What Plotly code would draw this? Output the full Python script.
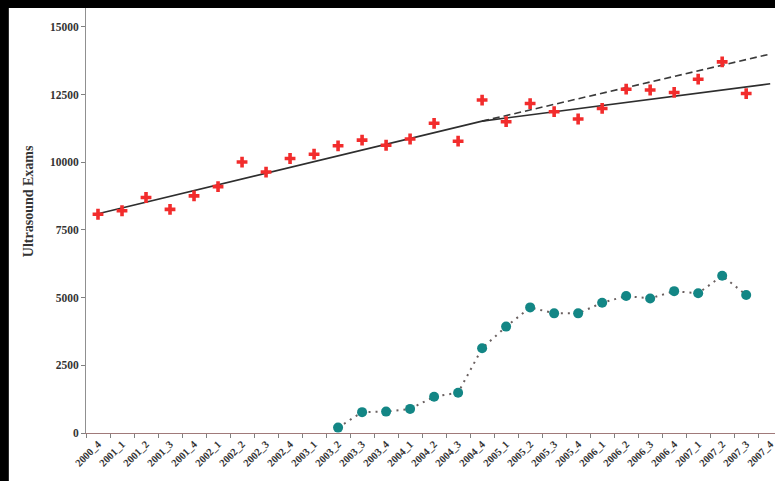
import plotly.graph_objects as go

# Quarter labels along the x axis
quarters = [
    "2000_4", "2001_1", "2001_2", "2001_3", "2001_4", "2002_1", "2002_2", "2002_3",
    "2002_4", "2003_1", "2003_2", "2003_3", "2003_4", "2004_1", "2004_2", "2004_3",
    "2004_4", "2005_1", "2005_2", "2005_3", "2005_4", "2006_1", "2006_2", "2006_3",
    "2006_4", "2007_1", "2007_2", "2007_3", "2007_4",
]

# Total ultrasound exams per quarter (2000_4 .. 2007_3)
total_exams = [
    8080, 8210, 8700, 8260, 8760, 9100, 10010, 9640,
    10140, 10300, 10610, 10820, 10630, 10860, 11440, 10780,
    12300, 11500, 12170, 11870, 11600, 11990, 12700, 12670,
    12580, 13070, 13710, 12540,
]

# Second exam series, starting in 2003_2 (2003_2 .. 2007_3)
sub_quarters = quarters[10:28]
sub_exams = [
    200, 770, 790, 890, 1340, 1490, 3130, 3930,
    4640, 4420, 4420, 4810, 5060, 4970, 5240, 5160,
    5810, 5100,
]

# Fitted trend (solid) and projected trend (dashed)
trend_x = ["2000_4", "2004_4", "2007_4"]
trend_y = [8100, 11520, 12900]
proj_x = ["2004_4", "2007_4"]
proj_y = [11520, 14000]

y_ticks = [0, 2500, 5000, 7500, 10000, 12500, 15000]

serif = "Liberation Serif, Times New Roman, serif"

fig = go.Figure()

fig.add_trace(go.Scatter(
    x=proj_x, y=proj_y, mode="lines",
    line=dict(color="#3a3a3a", width=1.6, dash="7px,4px"),
    showlegend=False, hoverinfo="skip",
))
fig.add_trace(go.Scatter(
    x=trend_x, y=trend_y, mode="lines",
    line=dict(color="#2e2e2e", width=1.6),
    showlegend=False, hoverinfo="skip",
))
fig.add_trace(go.Scatter(
    x=quarters[:len(total_exams)], y=total_exams, mode="markers",
    marker=dict(symbol="cross", size=9, color="#f22c2c", line=dict(width=0)),
    showlegend=False,
))
fig.add_trace(go.Scatter(
    x=sub_quarters, y=sub_exams, mode="lines+markers",
    line=dict(color="#6a6060", width=2, dash="2px,5px"),
    marker=dict(symbol="circle", size=10, color="#138685"),
    showlegend=False,
))

fig.update_layout(
    width=775, height=481,
    margin=dict(l=86, r=0, t=8, b=48),
    paper_bgcolor="black",
    plot_bgcolor="rgba(0,0,0,0)",
    font=dict(family=serif, color="#222222"),
    shapes=[dict(
        type="rect", xref="paper", yref="paper",
        x0=-0.112, x1=1.01, y0=-0.2, y1=1.0,
        fillcolor="white", line=dict(width=0), layer="below",
    )],
    xaxis=dict(
        type="category", categoryorder="array", categoryarray=quarters,
        range=[-0.5, 28.2],
        showgrid=False, zeroline=False,
        showline=True, linecolor="#a07a7a", linewidth=1,
        ticks="outside", ticklen=4, tickcolor="#808080",
        tickson="boundaries",
        tickangle=-45,
        tickfont=dict(family=serif, size=10.5, color="#333333", weight="bold"),
    ),
    yaxis=dict(
        range=[0, 15700],
        tickvals=y_ticks, ticktext=[str(v) for v in y_ticks],
        showgrid=False, zeroline=False,
        showline=True, linecolor="#909090", linewidth=1,
        ticks="outside", ticklen=4, tickcolor="#808080",
        tickfont=dict(family=serif, size=11.5, color="#333333", weight="bold"),
    ),
    annotations=[dict(
        text="<b>Ultrasound Exams</b>", textangle=-90,
        xref="paper", yref="paper", x=-0.083, y=0.545,
        xanchor="center", yanchor="middle", showarrow=False,
        font=dict(family=serif, size=14, color="#333333"),
    )],
)

fig.write_html("out.html")
